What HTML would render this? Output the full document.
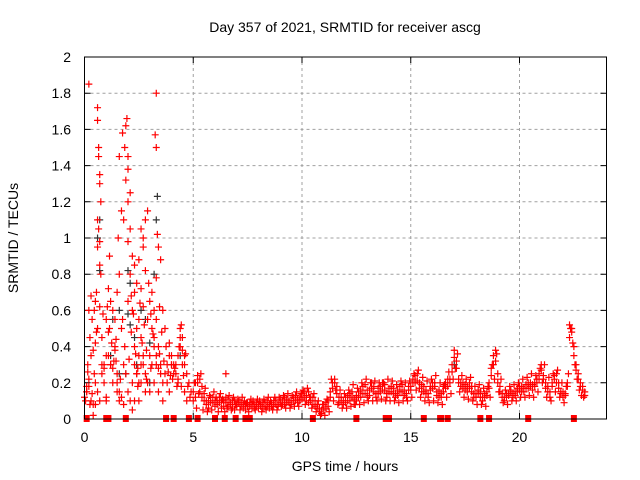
<!DOCTYPE html>
<html><head><meta charset="utf-8"><style>
html,body{margin:0;padding:0;background:#fff;}
svg{display:block;font-family:"Liberation Sans",sans-serif;}
</style></head><body>
<svg id="chart" width="640" height="480" viewBox="0 0 640 480">
<rect width="640" height="480" fill="#fff"/>
<text x="345" y="32" font-size="14" text-anchor="middle" fill="#000">Day 357 of 2021, SRMTID for receiver ascg</text>
<text x="345" y="471" font-size="14" text-anchor="middle">GPS time / hours</text>
<text transform="translate(18,238) rotate(-90)" font-size="14" text-anchor="middle">SRMTID / TECUs</text>
<g id="grid"></g>
<g id="ticks"></g>
<g id="marks"></g>
<rect x="84.5" y="57" width="522" height="362" fill="none" stroke="#000" stroke-width="1"/>
</svg>
<script>
const xTicks=[0,5,10,15,20];
const yTicks=[0,0.2,0.4,0.6,0.8,1,1.2,1.4,1.6,1.8,2];
const yTickLabels=["0","0.2","0.4","0.6","0.8","1","1.2","1.4","1.6","1.8","2"];
const trackAStart=0.0, trackAStep=0.1;
const trackA=[0.12,0.15,0.18,0.1,0.08,0.2,0.15,0.1,0.25,0.3,0.12,0.35,0.3,0.28,0.4,0.2,0.15,0.12,0.3,0.25,0.15,0.1,0.2,0.3,0.25,0.2,0.3,0.35,0.25,0.2,0.15,0.3,0.4,0.35,0.28,0.3,0.2,0.25,0.3,0.35,0.3,0.25,0.3,0.35,0.45,0.38,0.3,0.25,0.2,0.15,
0.15,0.12,0.2,0.22,0.18,0.1,0.08,0.1,0.12,0.09,0.1,0.08,0.12,0.1,0.07,0.09,0.11,0.08,0.06,0.1,0.08,0.09,0.07,0.06,0.08,0.09,0.07,0.08,0.06,0.07,0.08,0.07,0.06,0.09,0.07,0.08,0.09,0.07,0.1,0.08,0.09,0.1,0.08,0.11,0.09,0.1,0.12,0.1,0.11,0.12,
0.14,0.12,0.1,0.15,0.12,0.08,0.1,0.06,0.04,0.05,0.08,0.06,0.1,0.12,0.2,0.22,0.18,0.12,0.1,0.08,0.12,0.1,0.14,0.12,0.08,0.1,0.15,0.12,0.18,0.14,0.12,0.16,0.2,0.15,0.12,0.14,0.18,0.2,0.16,0.12,0.15,0.18,0.14,0.12,0.16,0.18,0.15,0.13,0.12,0.16,
0.18,0.22,0.2,0.25,0.2,0.15,0.18,0.14,0.12,0.16,0.2,0.18,0.15,0.12,0.14,0.18,0.2,0.18,0.22,0.3,0.38,0.32,0.22,0.18,0.2,0.16,0.18,0.2,0.15,0.12,0.14,0.16,0.12,0.1,0.12,0.15,0.2,0.28,0.35,0.38,0.25,0.15,0.12,0.1,0.12,0.14,0.15,0.12,0.13,0.15,
0.16,0.18,0.15,0.17,0.2,0.18,0.16,0.2,0.22,0.25,0.3,0.22,0.2,0.15,0.12,0.18,0.22,0.25,0.2,0.15,0.12,0.14,0.18,0.52,0.5,0.4,0.3,0.25,0.2,0.18,0.15];
const trackBStart=5.0, trackBStep=0.1;
const trackB=[0.1,0.2,0.24,0.15,0.12,0.14,0.1,0.06,0.09,0.12,0.07,0.1,0.09,0.06,0.1,0.12,0.07,0.09,0.1,0.05,0.07,0.1,0.09,0.08,0.05,0.07,0.09,0.06,0.08,0.09,0.06,0.08,0.09,0.07,0.1,0.06,0.07,0.1,0.08,0.07,0.11,0.08,0.12,0.09,0.1,0.08,0.1,0.13,0.09,0.1,
0.11,0.15,0.13,0.09,0.1,0.12,0.07,0.08,0.06,0.03,0.05,0.09,0.07,0.15,0.17,0.2,0.14,0.09,0.12,0.1,0.09,0.13,0.1,0.15,0.11,0.13,0.12,0.16,0.14,0.19,0.16,0.13,0.17,0.18,0.14,0.17,0.15,0.16,0.19,0.14,0.17,0.15,0.17,0.14,0.13,0.15,0.19,0.16,0.14,0.18,
0.16,0.2,0.24,0.21,0.17,0.19,0.15,0.16,0.14,0.18,0.17,0.2,0.13,0.16,0.12,0.15,0.17,0.22,0.2,0.26,0.34,0.28,0.2,0.2,0.17,0.19,0.15,0.17,0.18,0.14,0.12,0.14,0.15,0.12,0.14,0.13,0.17,0.24,0.3,0.32,0.2,0.18,0.14,0.12,0.14,0.13,0.16,0.14,0.15,0.17,
0.18,0.15,0.17,0.19,0.17,0.2,0.19,0.18,0.2,0.22,0.27,0.24,0.17,0.18,0.15,0.2,0.24,0.2,0.17,0.14,0.15,0.13,0.2,0.45,0.48,0.35,0.27,0.22,0.18,0.16,0.13];
const trackCStart=5.05, trackCStep=0.1;
const trackC=[0.2,0.06,0.14,0.25,0.05,0.17,0.04,0.13,0.05,0.15,0.12,0.04,0.14,0.11,0.04,0.06,0.13,0.05,0.12,0.08,0.11,0.05,0.12,0.1,0.09,0.04,0.11,0.1,0.05,0.11,0.1,0.04,0.11,0.05,0.12,0.1,0.05,0.12,0.05,0.12,0.07,0.13,0.06,0.14,0.06,0.13,0.07,0.15,0.07,0.14,
0.16,0.08,0.17,0.12,0.06,0.14,0.04,0.1,0.02,0.08,0.02,0.11,0.04,0.22,0.1,0.16,0.08,0.16,0.06,0.14,0.06,0.16,0.07,0.19,0.08,0.17,0.08,0.2,0.09,0.22,0.1,0.2,0.1,0.21,0.1,0.2,0.11,0.2,0.1,0.22,0.1,0.21,0.1,0.19,0.09,0.21,0.1,0.2,0.1,0.21,
0.12,0.25,0.16,0.27,0.12,0.23,0.1,0.21,0.09,0.22,0.1,0.24,0.09,0.2,0.08,0.19,0.12,0.26,0.14,0.22,0.28,0.36,0.15,0.24,0.12,0.22,0.11,0.23,0.1,0.18,0.08,0.19,0.08,0.17,0.07,0.18,0.12,0.3,0.22,0.36,0.15,0.22,0.09,0.16,0.08,0.18,0.1,0.19,0.1,0.2,
0.12,0.22,0.12,0.23,0.13,0.25,0.12,0.24,0.15,0.28,0.2,0.3,0.12,0.23,0.1,0.25,0.15,0.27,0.12,0.2,0.09,0.18,0.25,0.5,0.42,0.3,0.22,0.16,0.13,0.12];
const spikeT=[0.2,0.6,0.6,0.65,0.65,0.7,0.7,0.75,0.6,0.65,0.7,0.6,0.7,0.75,0.55,0.5,0.7,0.3,0.2,0.35,0.25,0.4,0.15,0.3,0.6,0.5,1.1,1.2,1.3,1.0,1.1,1.25,1.4,1.0,1.2,1.5,1.3,1.6,1.5,1.4,1.5,1.6,1.55,1.7,1.6,1.75,1.9,1.95,1.85,2.0,2.0,1.9,2.1,2.0,1.8,2.1,2.0,2.2,2.3,2.1,2.4,2.3,2.0,2.2,2.5,2.4,2.6,2.3,2.5,2.7,2.4,2.6,2.8,2.5,2.9,2.7,2.6,2.8,2.5,2.7,2.6,2.8,2.9,2.7,2.95,3.1,3.0,3.2,3.3,3.1,3.2,3.4,3.0,3.3,3.5,3.2,3.4,3.6,3.3,3.25,3.3,3.35,3.4,3.5,3.3,3.6,3.7,3.9,4.0,4.1,4.2,4.3,4.4,4.5,4.4,4.6,4.5,4.3,4.6,4.7,3.8,3.9,4.0,2.3,2.2,1.8,0.8,0.9,1.0,0.4,0.5,0.1,0.2,6.5,
0.05,0.1,0.15,0.25,0.35,0.45,0.55,0.8,0.9,1.05,1.15,1.35,1.45,1.65,1.75,1.85,2.05,2.15,2.25,2.35,2.45,2.55,2.65,2.75,2.85,3.05,3.15,3.45,3.55,3.65,3.75,3.85,4.05,4.15,4.25,4.35,4.45,4.55,4.65,4.75,4.85,0.45,0.85,1.15,1.45,1.7,2.15,2.45,2.85,3.05,3.45,3.95,4.45];
const spikeV=[1.85,1.72,1.65,1.5,1.45,1.3,1.35,1.2,1.1,1.05,0.98,0.95,0.85,0.8,0.7,0.65,0.62,0.68,0.6,0.55,0.45,0.38,0.3,0.35,0.5,0.42,0.72,0.65,0.6,0.55,0.48,0.42,0.38,0.35,0.3,0.25,0.2,0.1,0.15,0.55,0.7,0.8,1.0,1.15,1.45,1.58,1.62,1.66,1.5,1.45,1.38,1.32,1.25,1.2,1.1,1.05,0.98,0.9,0.85,0.8,0.75,0.7,0.65,0.6,0.55,0.5,0.45,0.4,0.35,0.3,0.25,0.2,0.15,0.1,0.55,0.62,0.72,0.82,0.88,0.95,1.05,1.1,1.15,1.0,0.75,0.7,0.65,0.6,0.55,0.5,0.45,0.4,0.35,0.3,0.25,0.2,0.15,0.1,1.8,1.57,1.5,1.02,0.95,0.88,0.78,0.6,0.5,0.42,0.35,0.3,0.25,0.22,0.5,0.45,0.4,0.35,0.3,0.2,0.15,0.1,0.2,0.15,0.3,0.1,0.05,0.08,0.3,0.2,0.1,0.02,0.08,0.15,0.22,0.25,
0.1,0.18,0.26,0.08,0.14,0.6,0.48,0.45,0.28,0.62,0.5,0.32,0.44,0.22,0.55,0.4,0.33,0.48,0.58,0.36,0.28,0.64,0.42,0.52,0.38,0.58,0.47,0.36,0.48,0.32,0.4,0.26,0.22,0.28,0.18,0.4,0.52,0.24,0.36,0.18,0.12,0.25,0.58,0.9,0.32,0.5,0.68,0.18,0.22,0.28,0.62,0.24,0.18];
const blackT=[0.7,0.6,0.7,1.3,1.2,1.6,2.0,2.1,2.0,2.1,2.3,2.4,2.6,2.8,3.0,3.35,3.3,3.2,1.6,1.9,3.0,17.0,4.4];
const blackV=[1.1,1.0,0.82,0.55,0.35,0.25,0.82,0.75,0.58,0.52,0.45,0.3,0.6,0.55,0.42,1.23,1.1,0.8,0.6,0.25,0.2,0.3,0.35];
const zeroT=[0.1,1.0,1.1,1.9,3.75,4.1,4.8,5.2,6.0,6.45,6.95,7.4,7.6,10.5,12.5,13.85,14.0,15.6,16.35,16.4,16.7,18.2,18.6,20.4,22.5];

const X0=84.5,X1=606.5,Y0=419,Y1=57,XMAX=24,YMAX=2;
function xs(t){return X0+(X1-X0)*t/XMAX;}
function ys(v){return Y0-(Y0-Y1)*v/YMAX;}
const NS="http://www.w3.org/2000/svg";
const grid=document.getElementById('grid'),ticks=document.getElementById('ticks'),marks=document.getElementById('marks');
function mk(tag,attrs,parent){const e=document.createElementNS(NS,tag);for(const k in attrs)e.setAttribute(k,attrs[k]);parent.appendChild(e);return e;}
xTicks.forEach(t=>{
  const x=xs(t);
  if(t>0){const g=mk('line',{x1:x,y1:Y0,x2:x,y2:Y1,stroke:'#a0a0a0','stroke-dasharray':'3,3'},grid);
  
  }
  const tk=mk('path',{d:`M${x},${Y0}v-6M${x},${Y1}v6`,stroke:'#000'},ticks);
  
  
  const lb=mk('text',{x:x,y:442,'font-size':14,'text-anchor':'middle'},ticks);lb.textContent=String(t);
  
  
});
yTicks.forEach((v,i)=>{
  const y=ys(v);
  if(v>0&&v<YMAX){const g=mk('line',{x1:X0,y1:y,x2:X1,y2:y,stroke:'#a0a0a0','stroke-dasharray':'3,3'},grid);
  
  }
  const tk=mk('path',{d:`M${X0},${y}h6M${X1},${y}h-6`,stroke:'#000'},ticks);
  
  
  const lb=mk('text',{x:71,y:y+5,'font-size':14,'text-anchor':'end'},ticks);lb.textContent=yTickLabels[i];
  
  
});
function plus(t,v,col,name){
  const x=xs(t),y=ys(v);
  const p=mk('path',{d:`M${x-3.5},${y}h7M${x},${y-3.5}v7`,stroke:col,'stroke-width':1.2,fill:'none'},marks);
  
  
}
blackT.forEach((t,i)=>plus(t,blackV[i],'#333','black-point'));
trackA.forEach((v,i)=>plus(trackAStart+i*trackAStep,v,'#ff0000','red-point'));
trackB.forEach((v,i)=>plus(trackBStart+i*trackBStep,v,'#ff0000','red-point'));
trackC.forEach((v,i)=>plus(trackCStart+i*trackCStep,v,'#ff0000','red-point'));
spikeT.forEach((t,i)=>plus(t,spikeV[i],'#ff0000','red-point'));
zeroT.forEach(t=>{
  const r=mk('rect',{x:xs(t)-3,y:Y0-4,width:6,height:7,fill:'#ff0000'},marks);
  
  
});
</script>
</body></html>
